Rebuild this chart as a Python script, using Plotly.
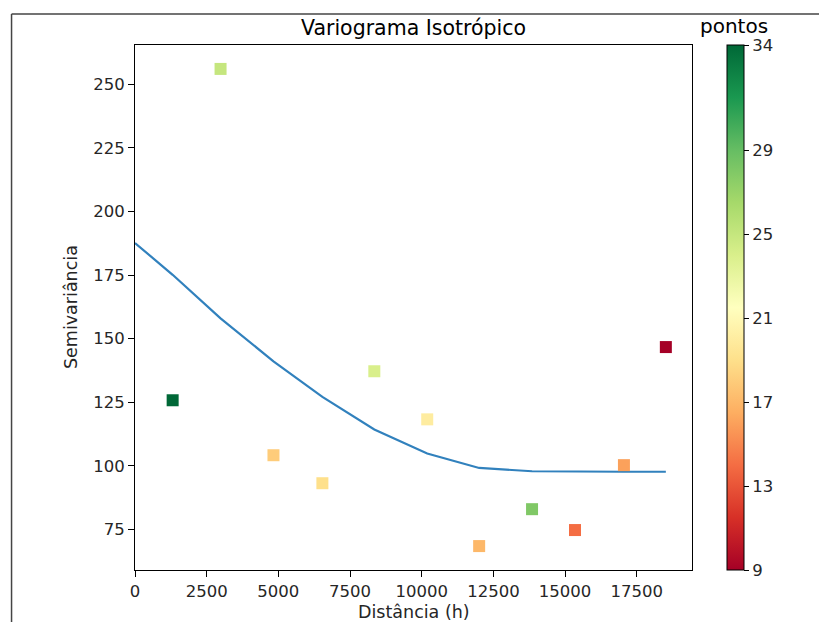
import plotly.graph_objects as go

# Data
lags = [1313, 2984, 4829, 6535, 8346, 10191, 12002, 13847, 15345, 17051, 18513]
semivar = [125.8, 256.0, 104.2, 93.2, 137.2, 118.3, 68.5, 83.0, 74.8, 100.3, 146.7]
pontos = [34, 25, 18, 19, 24, 20, 17, 28, 14, 16, 9]

model_x = [0, 1313, 2984, 4829, 6535, 8346, 10191, 12002, 13847, 15345, 17051, 18513]
model_y = [187.6, 175.1, 158.0, 141.1, 127.1, 114.3, 104.9, 99.2, 97.9, 97.7, 97.7, 97.7]

x_ticks = [0, 2500, 5000, 7500, 10000, 12500, 15000, 17500]
x_tick_labels = ["0", "2500", "5000", "7500", "10000", "12500", "15000", "17500"]
y_ticks = [75, 100, 125, 150, 175, 200, 225, 250]
cb_ticks = [9, 13, 17, 21, 25, 29, 34]

W, H = 819, 622
L, R, T, B = 134.5, 691.7, 45, 569.7
pw, ph = R - L, B - T

def px(xp):
    return (xp - L) / pw

def py(yp):
    return (B - yp) / ph

font = "DejaVu Sans"
tick_font = dict(family=font, size=16.5, color="#262626")

fig = go.Figure()
fig.add_trace(go.Scatter(
    x=model_x, y=model_y, mode="lines",
    line=dict(color="#3181bd", width=2.2), showlegend=False, hoverinfo="skip"))
fig.add_trace(go.Scatter(
    x=lags, y=semivar, mode="markers", showlegend=False,
    marker=dict(symbol="square", size=12, color=pontos, colorscale="RdYlGn",
                cmin=9, cmax=34, line=dict(width=0),
                colorbar=dict(
                    x=px(726.5), xanchor="left", xpad=0,
                    y=0.5, yanchor="middle", ypad=0,
                    len=B - T, lenmode="pixels", thickness=17,
                    outlinecolor="black", outlinewidth=1,
                    tickvals=cb_ticks, ticktext=[str(v) for v in cb_ticks],
                    ticks="outside", ticklen=5, tickcolor="black",
                    tickfont=tick_font,
                ))))

axis_common = dict(showgrid=False, zeroline=False, showline=True, mirror=True,
                   linecolor="black", linewidth=1, ticks="outside", ticklen=6,
                   tickcolor="black", tickfont=tick_font)

fig.update_xaxes(range=[0, 19425], tickvals=x_ticks, ticktext=x_tick_labels, **axis_common)
fig.update_yaxes(range=[59.1, 265.4], tickvals=y_ticks, **axis_common)

annotations = [
    dict(text="Variograma Isotrópico", x=0.5, y=py(28), xref="paper", yref="paper",
         showarrow=False, font=dict(family=font, size=20.5, color="black"),
         xanchor="center", yanchor="middle"),
    dict(text="pontos", x=px(734), y=py(26), xref="paper", yref="paper",
         showarrow=False, font=dict(family=font, size=20, color="black"),
         xanchor="center", yanchor="middle"),
    dict(text="Distância (h)", x=0.5, y=py(612), xref="paper", yref="paper",
         showarrow=False, font=dict(family=font, size=17.5, color="#262626"),
         xanchor="center", yanchor="middle"),
    dict(text="Semivariância", x=px(70), y=0.5, xref="paper", yref="paper",
         showarrow=False, textangle=-90, font=dict(family=font, size=17.5, color="#262626"),
         xanchor="center", yanchor="middle"),
]

shapes = [
    dict(type="line", xref="paper", yref="paper", x0=px(11), x1=px(819), y0=py(14), y1=py(14),
         line=dict(color="#444444", width=1.5)),
    dict(type="line", xref="paper", yref="paper", x0=px(11), x1=px(11), y0=py(14), y1=py(622),
         line=dict(color="#444444", width=1.5)),
]

fig.update_layout(
    width=W, height=H, autosize=False,
    margin=dict(l=L, r=W - R, t=T, b=H - B, pad=0),
    paper_bgcolor="white", plot_bgcolor="white",
    annotations=annotations, shapes=shapes,
    font=dict(family=font),
)

fig.write_html("out.html")
